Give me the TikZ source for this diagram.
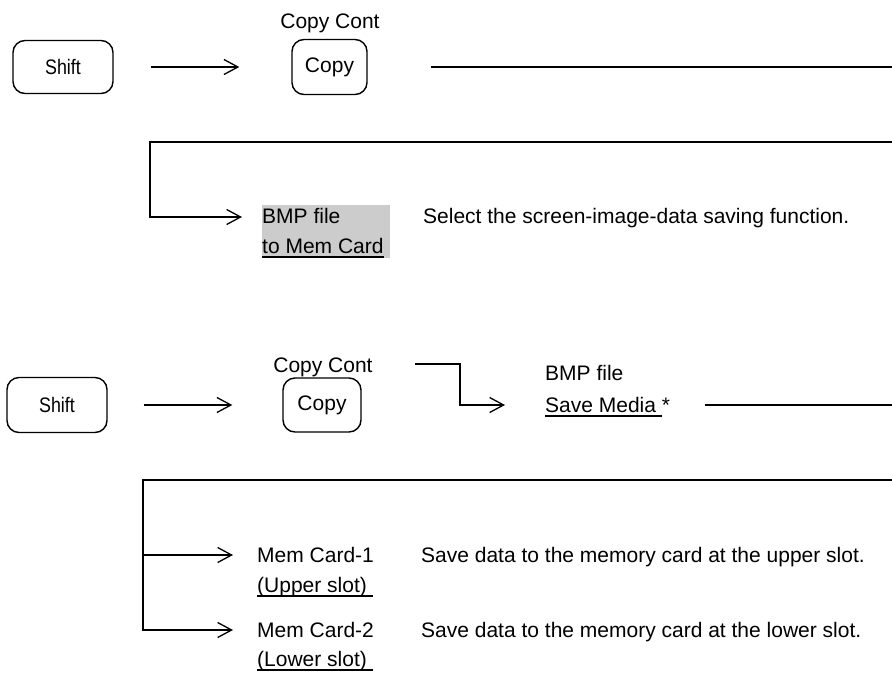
\documentclass[tikz,border=0pt]{standalone}
\usepackage{fontspec}
\setmainfont{Liberation Sans}
\usepackage{graphicx}
\usetikzlibrary{arrows.meta}
\newcommand\myul[1]{\setbox0\hbox{#1}\rlap{\rule[-4.5pt]{\wd0}{1.3pt}}\box0}
\begin{document}
\begin{tikzpicture}[x=1pt,y=-1pt,
  txt/.style={font=\fontsize{21}{25}\selectfont, inner sep=0pt},
  keybox/.style={draw, line width=1.4pt, rounded corners=12pt, inner sep=0pt, font=\fontsize{21}{25}\selectfont},
  conn/.style={line width=1.3pt},
  arr/.style={conn, -{Straight Barb[length=14pt,width=15pt,line width=1.3pt]}}
]
\useasboundingbox (0,0) rectangle (892,673);

% ---------- upper section ----------
\node[keybox, minimum width=100pt, minimum height=53pt] (shift1) at (63,67) {\scalebox{0.85}[1]{Shift}};
\node[keybox, minimum width=75pt, minimum height=55pt] (copy1) at (329.5,67) {Copy};
\node[txt, anchor=base] (cc1) at (330,28) {Copy Cont};
\draw[arr, shorten <=37pt, shorten >=52pt] (shift1.east) -- (copy1.west);
\coordinate (r1) at (892,67);
\draw[conn, shorten <=63pt] (copy1.east) -- (r1);

\coordinate (r2) at (892,142);
\coordinate (k2) at (150,142);
\coordinate (t2) at (242,217);
\draw[arr] (r2) -- (k2) |- (t2);

\node[fill=gray!40, minimum width=128pt, minimum height=53pt, inner sep=0pt, anchor=north west] (bmpbg) at (262,205) {};
\node[txt, anchor=base west] (bmp1a) at (262,223) {BMP file};
\node[txt, anchor=base west] (bmp1b) at (262,253) {\myul{to Mem Card}};
\node[txt, anchor=base west] (sel) at (423,223) {Select the screen-image-data saving function.};

% ---------- lower section ----------
\node[keybox, minimum width=100pt, minimum height=55pt] (shift2) at (57,405) {\scalebox{0.85}[1]{Shift}};
\node[keybox, minimum width=78pt, minimum height=54pt] (copy2) at (322,405) {Copy};
\node[txt, anchor=base] (cc2) at (323,372) {Copy Cont};
\draw[arr, shorten <=36pt, shorten >=50pt] (shift2.east) -- (copy2.west);

\coordinate (l1) at (415,364);
\coordinate (lc) at (460,364);
\coordinate (l3) at (505,405);
\draw[arr] (l1) -- (lc) |- (l3);

\node[txt, anchor=base west] (bmp2) at (545,380) {BMP file};
\node[txt, anchor=base west] (save) at (545,412) {\myul{Save Media }*};
\coordinate (l4) at (705,405);
\coordinate (r3) at (892,405);
\draw[conn] (l4) -- (r3);

\coordinate (r4) at (892,480);
\coordinate (k4) at (143,480);
\coordinate (t4a) at (233,555);
\coordinate (t4b) at (233,630);
\draw[arr] (r4) -- (k4) |- (t4b);
\draw[arr] (k4 |- t4a) -- (t4a);

\node[txt, anchor=base west] (mc1) at (257,562) {Mem Card-1};
\node[txt, anchor=base west] (us) at (257,592) {\myul{(Upper slot) }};
\node[txt, anchor=base west] (mc2) at (257,637) {Mem Card-2};
\node[txt, anchor=base west] (ls) at (257,666) {\myul{(Lower slot) }};
\node[txt, anchor=base west] (d1) at (421,562) {Save data to the memory card at the upper slot.};
\node[txt, anchor=base west] (d2) at (421,637) {Save data to the memory card at the lower slot.};
\end{tikzpicture}
\end{document}
